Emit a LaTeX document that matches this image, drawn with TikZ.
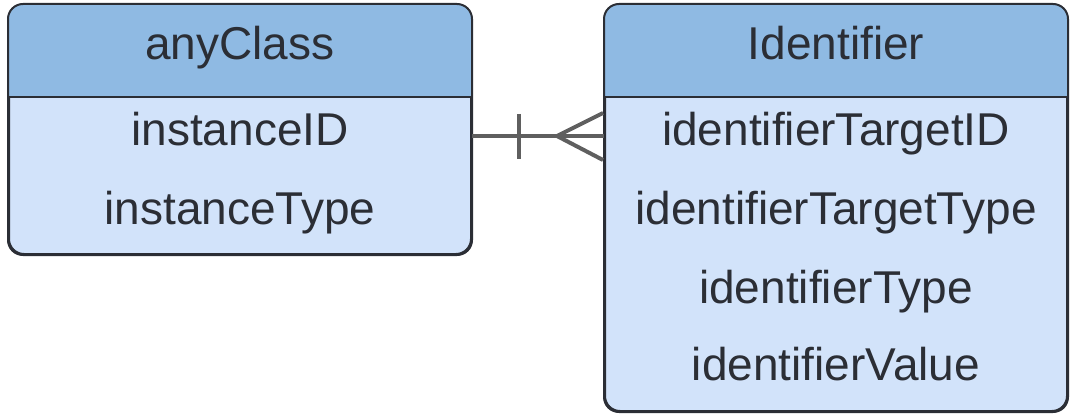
\documentclass[tikz,border=0pt]{standalone}
\usepackage{fontspec}
\setmainfont{Liberation Sans}
\definecolor{hdblue}{HTML}{8FBAE3}
\definecolor{bdblue}{HTML}{D2E3FA}
\definecolor{inkdark}{HTML}{2B2E35}
\definecolor{linkgray}{HTML}{5F5F5F}
\begin{document}
\begin{tikzpicture}[
    x=1pt,y=-1pt,
    BX/.style={draw=inkdark,line width=2pt,fill=bdblue,rounded corners=15pt,inner sep=0pt},
    TX/.style={anchor=base,inner sep=0pt,text=inkdark,font=\fontsize{46}{52}\selectfont},
    LL/.style={draw=linkgray,line width=4pt}
    ]
    \useasboundingbox (0,0) rectangle (1072,420);
    %\clip (0,0) rectangle (1072,420);
    \node [BX,minimum width=462pt,minimum height=249pt] (C) at (240,129.5) {};
    \node [BX,minimum width=462pt,minimum height=406pt] (I) at (836,208) {};
    \begin{scope}
      \clip [rounded corners=15pt] (C.south west) rectangle (C.north east);
      \fill [hdblue] (C.north west) rectangle (471,97);
    \end{scope}
    \begin{scope}
      \clip [rounded corners=15pt] (I.south west) rectangle (I.north east);
      \fill [hdblue] (I.north west) rectangle (1067,97);
    \end{scope}
    \draw [inkdark,line width=2pt] (C.west |- 0,97) -- (C.east |- 0,97);
    \draw [inkdark,line width=2pt] (I.west |- 0,97) -- (I.east |- 0,97);
    \draw [BX,fill=none] (C.south west) rectangle (C.north east);
    \draw [BX,fill=none] (I.south west) rectangle (I.north east);
    \node [TX] (CN) at (240,60) {anyClass};
    \node [TX] (C1) at (240,145) {instanceID};
    \node [TX] (C2) at (240,224) {instanceType};
    \node [TX] (IN) at (836,60) {Identifier};
    \node [TX] (I1) at (836,145) {identifierTargetID};
    \node [TX] (I2) at (836,224) {identifierTargetType};
    \node [TX] (I3) at (836,303) {identifierType};
    \node [TX] (I4) at (836,380) {identifierValue};
    \coordinate (R) at (0,136);
    \draw [LL] (C.east |- R) -- (I.west |- R);
    \draw [LL] (519,114) -- (519,159);
    \draw [LL] (603,113) -- (557,136) -- (603,160);
\end{tikzpicture}
\end{document}
